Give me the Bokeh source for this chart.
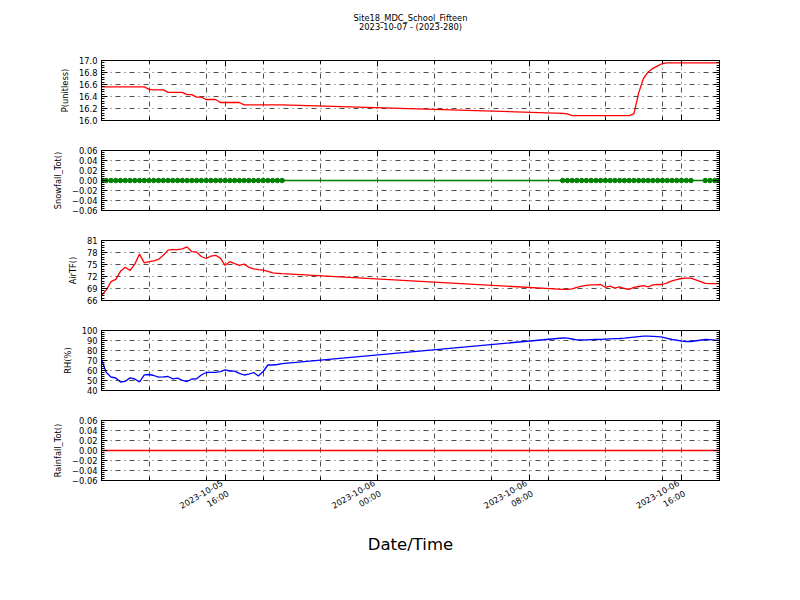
import math
import numpy as np
import pandas as pd
from bokeh.plotting import figure
from bokeh.layouts import column
from bokeh.core.properties import value
from bokeh.models import (FixedTicker, LinearAxis, DatetimeAxis, Range1d,
                          CustomLabelingPolicy)
from bokeh.embed import file_html
from bokeh.resources import INLINE

# ---------------- data ----------------
# 15-minute records with two gaps in the logger record
seg_a = pd.date_range("2023-10-05 09:30", "2023-10-05 19:00", freq="15min")  # 39 samples
seg_b = pd.date_range("2023-10-06 09:45", "2023-10-06 16:30", freq="15min")  # 28 samples
seg_c = pd.date_range("2023-10-06 17:15", "2023-10-06 18:00", freq="15min")  # 4 samples
times = seg_a.append(seg_b).append(seg_c)

pressure = [
    16.56, 16.56, 16.56, 16.56, 16.56, 16.56, 16.56, 16.56, 16.56, 16.56,
    16.52, 16.51, 16.51, 16.51, 16.47, 16.47, 16.47, 16.47, 16.43, 16.43,
    16.39, 16.39, 16.35, 16.35, 16.35, 16.30, 16.30, 16.30, 16.30, 16.30,
    16.26, 16.26, 16.26, 16.26, 16.26, 16.26, 16.26, 16.26, 16.26,
    16.12, 16.11, 16.08, 16.08, 16.08, 16.08, 16.08, 16.08, 16.08, 16.08,
    16.08, 16.08, 16.08, 16.08, 16.08, 16.11, 16.46, 16.70, 16.81, 16.87,
    16.91, 16.95, 16.96, 16.96, 16.96, 16.96, 16.96, 16.96,
    16.96, 16.96, 16.96, 16.96,
]

air_t = [
    67.3, 68.6, 70.7, 71.3, 73.3, 74.3, 73.5, 75.1, 77.6, 75.4,
    75.7, 75.9, 76.3, 77.3, 78.6, 78.7, 78.7, 78.9, 79.4, 78.2,
    78.1, 77.0, 76.5, 77.1, 77.3, 76.6, 74.8, 75.7, 75.2, 74.8,
    75.1, 74.3, 73.9, 73.7, 73.6, 73.3, 72.9, 72.8, 72.7,
    68.8, 68.8, 68.9, 69.3, 69.6, 69.8, 69.9, 69.9, 70.0, 69.3,
    69.6, 69.1, 69.4, 69.0, 68.8, 69.3, 69.5, 69.7, 69.4, 69.9,
    70.0, 70.0, 70.4, 70.9, 71.2, 71.5, 71.6, 71.6,
    70.3, 70.2, 70.2, 70.2,
]

rh = [
    71.0, 58.0, 53.5, 52.5, 48.5, 49.2, 52.6, 51.5, 48.5, 55.7,
    56.0, 55.0, 53.4, 53.6, 54.0, 51.7, 52.3, 50.2, 49.0, 51.5,
    51.7, 55.5, 58.0, 58.2, 58.2, 58.8, 60.7, 59.5, 59.3, 57.2,
    55.5, 56.3, 58.0, 54.5, 59.0, 65.5, 65.5, 66.0, 66.8,
    92.5, 92.3, 91.5, 90.7, 90.5, 90.6, 90.8, 91.0, 91.2, 91.4,
    91.6, 91.8, 92.0, 92.4, 92.9, 93.4, 93.9, 94.3, 94.3, 94.1,
    93.8, 93.4, 92.2, 91.0, 90.3, 89.5, 89.0, 89.0,
    91.0, 90.8, 90.4, 90.0,
]

# every recorded snowfall / rainfall total was zero
snowfall = [0.0] * len(times)
rainfall = [0.0] * len(times)

title_lines = ["Site18_MDC_School_Fifteen", "2023-10-07 - (2023-280)"]

x_major_times = ["2023-10-05 16:00", "2023-10-06 00:00", "2023-10-06 08:00", "2023-10-06 16:00"]
x_major_labels = ["2023-10-05\n16:00", "2023-10-06\n00:00", "2023-10-06\n08:00", "2023-10-06\n16:00"]
x_minor_times = ["2023-10-05 12:00", "2023-10-05 15:00", "2023-10-05 18:00", "2023-10-05 21:00",
                 "2023-10-06 03:00", "2023-10-06 06:00", "2023-10-06 09:00", "2023-10-06 12:00",
                 "2023-10-06 15:00"]

p_ticks = [16.0, 16.2, 16.4, 16.6, 16.8, 17.0]
p_labels = ["16.0", "16.2", "16.4", "16.6", "16.8", "17.0"]
zero_ticks = [-0.06, -0.04, -0.02, 0.0, 0.02, 0.04, 0.06]
zero_labels = ["\u22120.06", "\u22120.04", "\u22120.02", "0.00", "0.02", "0.04", "0.06"]
t_ticks = [66, 69, 72, 75, 78, 81]
t_labels = ["66", "69", "72", "75", "78", "81"]
rh_ticks = [40, 50, 60, 70, 80, 90, 100]
rh_labels = ["40", "50", "60", "70", "80", "90", "100"]

# ---------------- styling ----------------
FONT = "DejaVu Sans"
SMALL = "8.3px"
GRID_DASH = "5 4 1 4"
PAGE_W = 800


def ms(s):
    return pd.Timestamp(s).value / 1e6


x_major = [ms(s) for s in x_major_times]
x_minor = [ms(s) for s in x_minor_times]
x_ticker = FixedTicker(ticks=x_major, minor_ticks=x_minor)
x_range = Range1d(start=times[0], end=times[-1])

NO_LABELS = "for (const i of Array.from(indices)) { indices.unset(i) } return indices"


def minor_list(ticks, n=5):
    out = []
    for a, b in zip(ticks[:-1], ticks[1:]):
        step = (b - a) / n
        out.extend([a + k * step for k in range(n)])
    out.append(ticks[-1])
    return out


def style_axis(ax, hide_labels):
    ax.axis_line_color = "black"
    ax.axis_line_width = 1
    ax.major_tick_line_color = "black"
    ax.minor_tick_line_color = "black"
    ax.major_tick_in = 6
    ax.major_tick_out = 0
    ax.minor_tick_in = 3
    ax.minor_tick_out = 0
    ax.major_label_text_font = FONT
    ax.major_label_text_color = "black"
    ax.axis_label_text_font = FONT
    ax.axis_label_text_font_style = "normal"
    ax.axis_label_text_color = "black"
    if hide_labels:
        ax.major_label_text_font_size = "0px"
        ax.major_label_policy = CustomLabelingPolicy(code=NO_LABELS)
        ax.major_label_standoff = 0
    else:
        ax.major_label_text_font_size = SMALL
        ax.major_label_standoff = 4


def panel(values, color, ylabel, yticks, ylabels, ylo, yhi, top, bottom, last=False, markers=False):
    p = figure(x_axis_type="datetime", x_range=x_range, y_range=Range1d(ylo, yhi),
               frame_width=618, frame_height=60,
               min_border_left=101, min_border_right=81,
               min_border_top=top, min_border_bottom=bottom,
               output_backend="svg", toolbar_location=None)
    p.outline_line_color = "black"
    p.outline_line_width = 1
    p.outline_line_alpha = 1

    y_ticker = FixedTicker(ticks=yticks, minor_ticks=minor_list(yticks))
    overrides = {t: l for t, l in zip(yticks, ylabels)}

    # grids
    p.xgrid.ticker = x_ticker
    p.xgrid.grid_line_color = "black"
    p.xgrid.grid_line_dash = GRID_DASH
    p.xgrid.grid_line_width = 0.7
    p.xgrid.minor_grid_line_color = "black"
    p.xgrid.minor_grid_line_dash = GRID_DASH
    p.xgrid.minor_grid_line_width = 0.7
    p.ygrid.ticker = y_ticker
    p.ygrid.grid_line_color = "black"
    p.ygrid.grid_line_dash = GRID_DASH
    p.ygrid.grid_line_width = 0.7

    # axes
    xa = p.xaxis[0]
    xa.ticker = x_ticker
    style_axis(xa, hide_labels=not last)
    if last:
        xa.major_label_overrides = {t: l for t, l in zip(x_major, x_major_labels)}
        xa.major_label_orientation = math.pi / 6
        xa.major_label_standoff = 7
        xa.axis_label = "Date/Time"
        xa.axis_label_text_font_size = "16.5px"
        xa.axis_label_standoff = 1

    ya = p.yaxis[0]
    ya.ticker = y_ticker
    ya.major_label_overrides = overrides
    style_axis(ya, hide_labels=False)
    ya.axis_label = ylabel
    ya.axis_label_text_font_size = SMALL
    ya.axis_label_standoff = 6

    ra = LinearAxis(ticker=y_ticker)
    style_axis(ra, hide_labels=True)
    p.add_layout(ra, "right")
    ta = DatetimeAxis(ticker=x_ticker)
    style_axis(ta, hide_labels=True)
    p.add_layout(ta, "above")

    p.line(times, values, color=color, line_width=1.3)
    if markers:
        p.scatter(times, values, marker="circle", size=4.5, color=color)
    return p


# title strip (figure-level suptitle)
head = figure(width=PAGE_W, height=52, x_range=Range1d(0, PAGE_W), y_range=Range1d(0, 52),
              min_border=0, output_backend="svg", toolbar_location=None)
head.axis.visible = False
head.grid.visible = False
head.outline_line_color = None
head.text(x=[PAGE_W / 2, PAGE_W / 2], y=[35, 26], text=title_lines,
          text_align="center", text_baseline="middle", text_color="black",
          text_font=value(FONT), text_font_size=SMALL)

p1 = panel(pressure, "#ff0000", "P(unitless)", p_ticks, p_labels, 16.0, 17.0, 8, 15)
p2 = panel(snowfall, "#008000", "Snowfall_Tot()", zero_ticks, zero_labels, -0.06, 0.06, 15, 15, markers=True)
p3 = panel(air_t, "#ff0000", "AirTF()", t_ticks, t_labels, 66, 81, 15, 15)
p4 = panel(rh, "#0000ff", "RH(%)", rh_ticks, rh_labels, 40, 100, 15, 15)
p5 = panel(rainfall, "#ff0000", "Rainfall_Tot()", zero_ticks, zero_labels, -0.06, 0.06, 15, 100, last=True)

layout = column(head, p1, p2, p3, p4, p5, spacing=0)
open("out.html", "w").write(file_html(layout, INLINE))
